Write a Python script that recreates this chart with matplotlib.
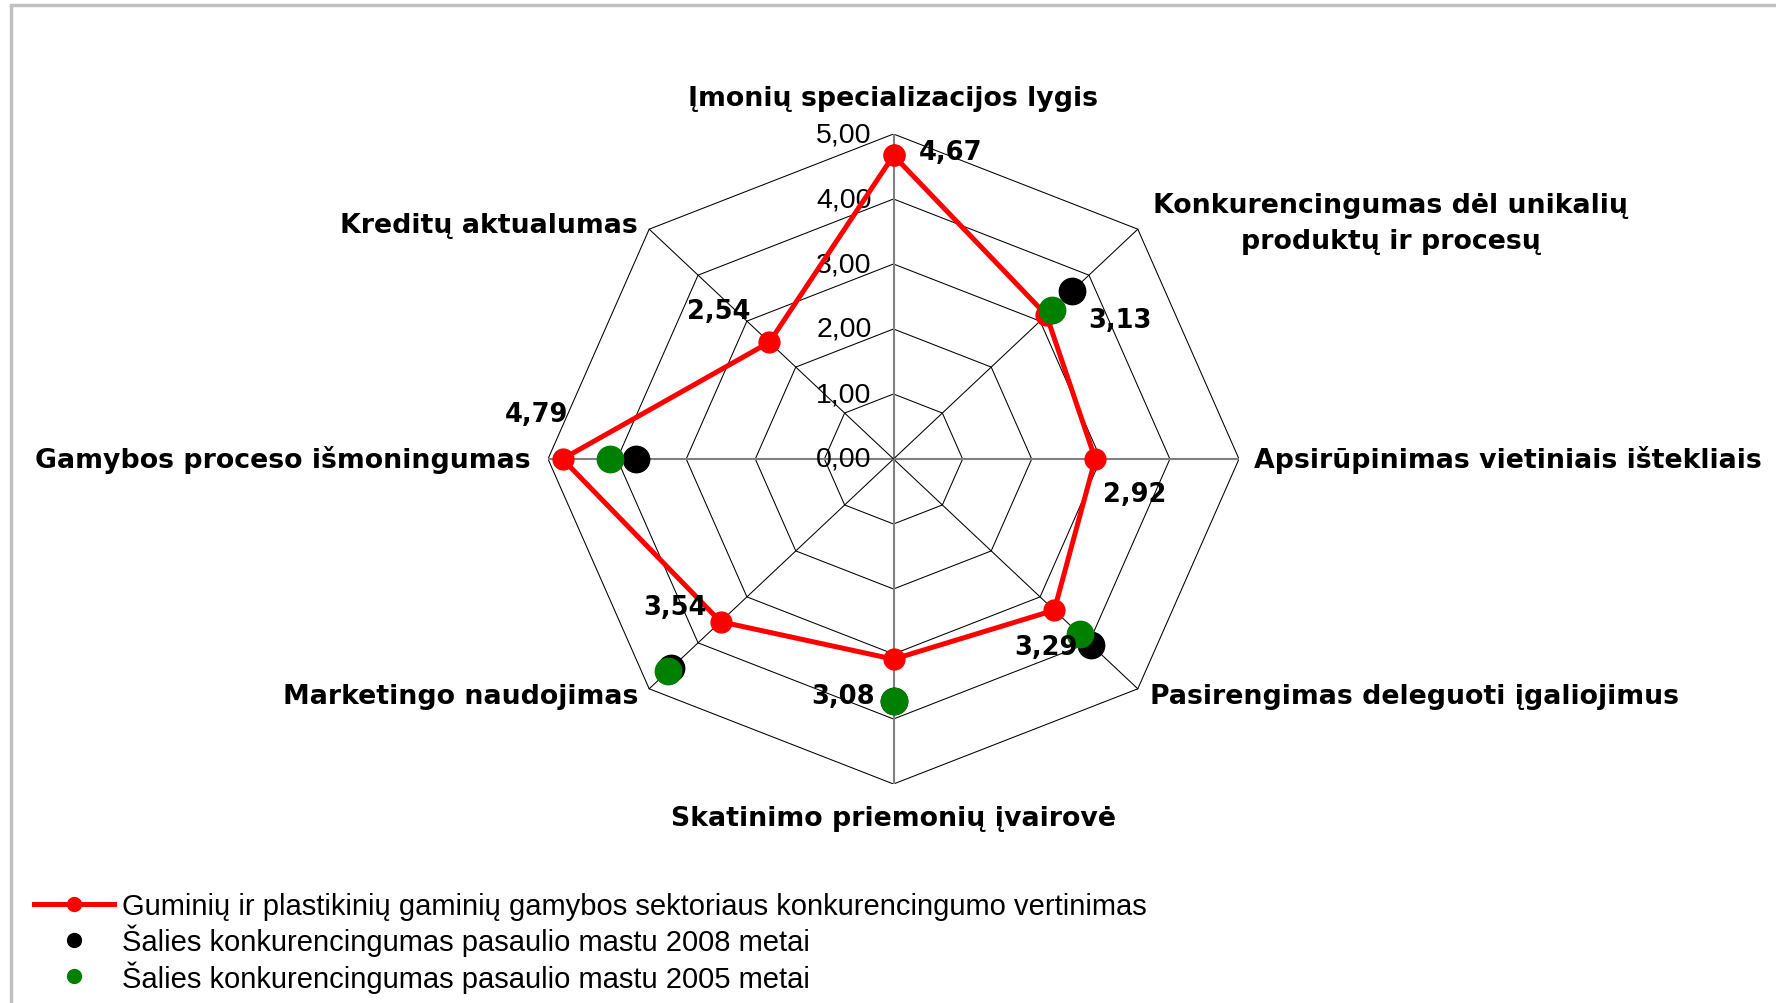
import matplotlib
matplotlib.use("Agg")
import matplotlib.pyplot as plt
import numpy as np
from matplotlib.lines import Line2D
from matplotlib.patches import Rectangle

categories = [
    "Įmonių specializacijos lygis",
    "Konkurencingumas dėl unikalių\nproduktų ir procesų",
    "Apsirūpinimas vietiniais ištekliais",
    "Pasirengimas deleguoti įgaliojimus",
    "Skatinimo priemonių įvairovė",
    "Marketingo naudojimas",
    "Gamybos proceso išmoningumas",
    "Kreditų aktualumas",
]
sector = [4.67, 3.13, 2.92, 3.29, 3.08, 3.54, 4.79, 2.54]
country_2008 = [np.nan, 3.65, np.nan, 4.05, 3.73, 4.55, 3.73, np.nan]
country_2005 = [np.nan, 3.25, np.nan, 3.81, 3.73, 4.62, 4.10, np.nan]
ticks = [0, 1, 2, 3, 4, 5]
series_names = [
    "Guminių ir plastikinių gaminių gamybos sektoriaus konkurencingumo vertinimas",
    "Šalies konkurencingumas pasaulio mastu 2008 metai",
    "Šalies konkurencingumas pasaulio mastu 2005 metai",
]

plt.rcParams["font.family"] = ["Liberation Sans", "DejaVu Sans"]
BOLD = ["DejaVu Sans", "Liberation Sans"]

n = len(categories)
ang = np.arange(n) * 2 * np.pi / n  # clockwise from top


def xy(r):
    r = np.asarray(r, dtype=float)
    return r * np.sin(ang), r * np.cos(ang)


fig = plt.figure(figsize=(17.76, 10.04), dpi=100)
fig.patches.append(Rectangle((11 / 1776, -0.1), 1.2, 1.1 - 6 / 1004, transform=fig.transFigure,
                             fill=False, edgecolor="#c0c0c0", lw=2.5))

ax = fig.add_axes([548 / 1776, 219 / 1004, 691 / 1776, 650 / 1004])
ax.set_xlim(-5, 5)
ax.set_ylim(-5, 5)
ax.axis("off")

# rings
for t in ticks[1:]:
    rx, ry = xy([t] * n)
    ax.plot(np.append(rx, rx[0]), np.append(ry, ry[0]), color="black", lw=0.75, zorder=1)
# spokes
ox, oy = xy([ticks[-1]] * n)
for i in range(n):
    main = i % 2 == 0
    ax.plot([0, ox[i]], [0, oy[i]], color="#808080" if main else "black",
            lw=1.5 if main else 0.75, zorder=1)
# tick labels
for t in ticks:
    ax.annotate(f"{t:.2f}".replace(".", ","), (0, t), xytext=(-22, 0), textcoords="offset pixels",
                ha="right", va="center", fontsize=20.5, zorder=2)

# series
sx, sy = xy(sector)
ax.plot(np.append(sx, sx[0]), np.append(sy, sy[0]), color="red", lw=3.6, marker="o", ms=15,
        zorder=3, clip_on=False)
bx, by = xy(country_2008)
ax.plot(bx, by, "o", color="black", ms=19, zorder=4, clip_on=False)
gx, gy = xy(country_2005)
ax.plot(gx, gy, "o", color="green", ms=19, zorder=5, clip_on=False)

# data labels
lab_off = [(57, 3), (74, -5), (39, -35), (-8, -37), (-50, -37), (-46, 15), (-26, 45), (-51, 31)]
for i in range(n):
    ax.annotate(f"{sector[i]:.2f}".replace(".", ","), (sx[i], sy[i]), xytext=lab_off[i],
                textcoords="offset pixels", ha="center", va="center", fontsize=18.5,
                family=BOLD, fontweight="bold", zorder=6)

# category labels
cat_off = [(0, 36), (253, 6), (15, 0), (12, -7), (0, -34), (-11, -7), (-17, 0), (-11, 4)]
cat_ha = ["center", "center", "left", "left", "center", "right", "right", "right"]
for i in range(n):
    ax.annotate(categories[i], (ox[i], oy[i]), xytext=cat_off[i], textcoords="offset pixels",
                ha=cat_ha[i], va="center", fontsize=19.3, family=BOLD, fontweight="bold",
                multialignment="center", linespacing=1.5)

handles = [
    Line2D([], [], color="red", lw=3.6, marker="o", ms=10),
    Line2D([], [], color="black", lw=0, marker="o", ms=10),
    Line2D([], [], color="green", lw=0, marker="o", ms=10),
]
fig.legend(handles, series_names, loc="upper left", bbox_to_anchor=(34 / 1776, 1 - 893 / 1004),
           frameon=False, fontsize=21, handlelength=2.75, handletextpad=0.27, labelspacing=0.13,
           borderpad=0, borderaxespad=0)

fig.savefig("out.png", dpi=100)
